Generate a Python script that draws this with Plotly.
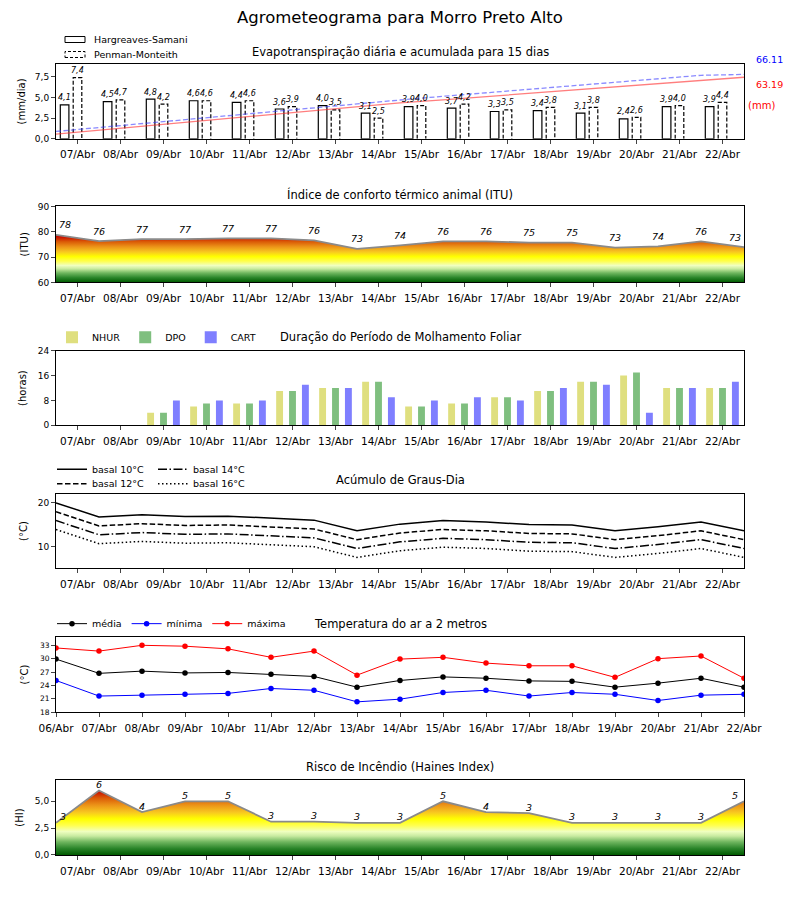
import plotly.graph_objects as go

# ---------------- data ----------------
days = ["07/Abr", "08/Abr", "09/Abr", "10/Abr", "11/Abr", "12/Abr", "13/Abr", "14/Abr",
        "15/Abr", "16/Abr", "17/Abr", "18/Abr", "19/Abr", "20/Abr", "21/Abr", "22/Abr"]
dates = ["06/Abr", "07/Abr", "08/Abr", "09/Abr", "10/Abr", "11/Abr", "12/Abr", "13/Abr", "14/Abr",
         "15/Abr", "16/Abr", "17/Abr", "18/Abr", "19/Abr", "20/Abr", "21/Abr", "22/Abr"]

et_hs = [4.1, 4.5, 4.8, 4.6, 4.4, 3.6, 4.0, 3.1, 3.9, 3.7, 3.3, 3.4, 3.1, 2.4, 3.9, 3.9]
et_pm = [7.4, 4.7, 4.2, 4.6, 4.6, 3.9, 3.5, 2.5, 4.0, 4.2, 3.5, 3.8, 3.8, 2.6, 4.0, 4.4]
acc_hs = [4.8, 8.8, 12.8, 16.8, 20.8, 24.8, 28.8, 32.8, 36.8, 40.0, 43.3, 46.6, 49.9, 53.2, 56.5, 59.9, 63.19]
acc_pm = [7.5, 11.6, 15.7, 19.8, 23.8, 27.8, 31.8, 35.8, 39.8, 43.6, 47.2, 50.6, 54.0, 57.6, 61.4, 65.2, 66.11]

itu = [78.8, 76.3, 77.1, 77.1, 77.4, 77.4, 76.6, 73.2, 74.6, 76.2, 76.2, 75.7, 75.7, 73.7, 74.2, 76.2, 73.9]

nhur = [0, 0, 4, 6, 7, 11, 12, 14, 6, 7, 9, 11, 14, 16, 12, 12]
dpo = [0, 0, 4, 7, 7, 11, 12, 14, 6, 7, 9, 11, 14, 17, 12, 12]
cart = [0, 0, 8, 8, 8, 13, 12, 9, 8, 9, 8, 12, 13, 4, 12, 14]

gd10 = [19.9, 16.7, 17.2, 16.8, 16.9, 16.5, 16.0, 13.6, 15.1, 15.9, 15.6, 15.0, 14.9, 13.6, 14.5, 15.6, 13.6]
gd12 = [17.9, 14.7, 15.2, 14.8, 14.9, 14.5, 14.0, 11.6, 13.1, 13.9, 13.6, 13.0, 12.9, 11.6, 12.5, 13.6, 11.6]
gd14 = [15.9, 12.7, 13.2, 12.8, 12.9, 12.5, 12.0, 9.6, 11.1, 11.9, 11.6, 11.0, 10.9, 9.6, 10.5, 11.6, 9.6]
gd16 = [13.9, 10.7, 11.2, 10.8, 10.9, 10.5, 10.0, 7.6, 9.1, 9.9, 9.6, 9.0, 8.9, 7.6, 8.5, 9.6, 7.6]

t_med = [29.9, 26.7, 27.2, 26.8, 26.9, 26.5, 26.0, 23.6, 25.1, 25.9, 25.6, 25.0, 24.9, 23.6, 24.5, 25.6, 23.6]
t_min = [25.1, 21.6, 21.8, 22.0, 22.2, 23.3, 22.9, 20.3, 20.9, 22.4, 22.9, 21.6, 22.4, 22.0, 20.6, 21.8, 22.0]
t_max = [32.4, 31.7, 33.0, 32.8, 32.2, 30.3, 31.7, 26.3, 29.9, 30.3, 29.0, 28.4, 28.4, 25.8, 30.0, 30.6, 25.6]

haines = [3.0, 6.0, 4.0, 5.0, 5.0, 3.1, 3.1, 3.0, 3.0, 5.0, 4.0, 3.9, 3.0, 3.0, 3.0, 3.0, 5.0]

# ---------------- layout helpers ----------------
FONT = "DejaVu Sans"
W, H = 800, 900
OFF = 8  # page body margin of the browser
PL, PR, PT, PB = 56, 744, 63.5, 855


def px_x(px):
    return (px - PL) / (PR - PL)


def px_y(py):
    return (PB - py) / (PB - PT)


panels = [(63.5, 138.3), (206, 282), (350.3, 425), (493.3, 568.3), (636.7, 712), (780.3, 855)]
yranges = [[0, 9.05], [60, 90], [0, 24], [5.1, 22.0], [18, 34.9], [0, 6.95]]
ytick = [
    ([0, 2.5, 5, 7.5], ["0,0", "2,5", "5,0", "7,5"]),
    ([60, 70, 80, 90], ["60", "70", "80", "90"]),
    ([0, 8, 16, 24], ["0", "8", "16", "24"]),
    ([10, 20], ["10", "20"]),
    ([18, 21, 24, 27, 30, 33], ["18", "21", "24", "27", "30", "33"]),
    ([0, 2.5, 5], ["0,0", "2,5", "5,0"]),
]
titles = ["Evapotranspiração diária e acumulada para 15 dias",
          "Índice de conforto térmico animal (ITU)",
          "Duração do Período de Molhamento Foliar",
          "Acúmulo de Graus-Dia",
          "Temperatura do ar a 2 metros",
          "Risco de Incêndio (Haines Index)"]
title_y = [51, 194, 337, 480, 623.7, 767.3]
ylabels = ["(mm/dia)", "(ITU)", "(horas)", "(°C)", "(°C)", "(HI)"]
ylabel_x = [21, 24, 23, 23, 24, 20]

n_days = len(days)
n_pts = len(dates)
day_x = [i + 0.5 for i in range(n_days)]
pt_x = list(range(n_pts))

grad = [[0.00, "#005a00"], [0.10, "#2a852a"], [0.20, "#6fb65f"], [0.29, "#c8eba0"],
        [0.36, "#f0ffc0"], [0.45, "#ffff50"], [0.55, "#ffff00"], [0.65, "#f8c820"],
        [0.76, "#ec9418"], [0.87, "#da5a06"], [0.95, "#cc1c00"], [1.00, "#c00000"]]

fig = go.Figure()
ann = []
shapes = []


def paper_text(xpx, ypx, text, size, color="black", xanchor="center", angle=0):
    return dict(x=px_x(xpx), y=px_y(ypx), xref="paper", yref="paper", text=text, showarrow=False,
                xanchor=xanchor, yanchor="middle", textangle=angle,
                font=dict(size=size, color=color))


# ---------------- panel 1: ET ----------------
fig.add_trace(go.Bar(x=[c - 0.3 for c in day_x], y=et_hs, width=0.2,
                     marker=dict(color="white", line=dict(color="black", width=1.2)),
                     xaxis="x", yaxis="y", showlegend=False, hoverinfo="skip"))
pm_x, pm_y = [], []
for c, v in zip(day_x, et_pm):
    pm_x += [c - 0.1, c - 0.1, c + 0.1, c + 0.1, None]
    pm_y += [0, v, v, 0, None]
fig.add_trace(go.Scatter(x=pm_x, y=pm_y, mode="lines", line=dict(color="black", width=1.2, dash="4px,2px"),
                         fill="toself", fillcolor="white",
                         xaxis="x", yaxis="y", showlegend=False, hoverinfo="skip"))
for c, v in zip(day_x, et_hs):
    ann.append(dict(x=c - 0.3, y=v, xref="x", yref="y", text=f"{v:.1f}".replace(".", ","),
                    showarrow=False, yshift=7, font=dict(size=8, style="italic")))
for c, v in zip(day_x, et_pm):
    ann.append(dict(x=c, y=v, xref="x", yref="y", text=f"{v:.1f}".replace(".", ","),
                    showarrow=False, yshift=7, font=dict(size=8, style="italic")))
fig.add_trace(go.Scatter(x=pt_x, y=acc_pm, mode="lines",
                         line=dict(color="rgba(60,60,255,0.6)", width=1.3, dash="5px,2.5px"),
                         xaxis="x7", yaxis="y7", showlegend=False, hoverinfo="skip"))
fig.add_trace(go.Scatter(x=pt_x, y=acc_hs, mode="lines",
                         line=dict(color="rgba(255,40,40,0.6)", width=1.3),
                         xaxis="x7", yaxis="y7", showlegend=False, hoverinfo="skip"))
ann.append(paper_text(769, 59, f"{acc_pm[-1]:.2f}", 9.5, "blue"))
ann.append(paper_text(769, 84, f"{acc_hs[-1]:.2f}", 9.5, "red"))
ann.append(paper_text(761, 105.5, "(mm)", 10, "red"))
# legend of panel 1 (outlined boxes)
shapes.append(dict(type="rect", xref="paper", yref="paper", x0=px_x(65), x1=px_x(85),
                   y0=px_y(42), y1=px_y(36), line=dict(color="black", width=1), fillcolor="white"))
shapes.append(dict(type="rect", xref="paper", yref="paper", x0=px_x(65), x1=px_x(85),
                   y0=px_y(57), y1=px_y(51), line=dict(color="black", width=1, dash="3px,2px"),
                   fillcolor="white"))
ann.append(paper_text(92, 39, "Hargreaves-Samani", 9.5, xanchor="left"))
ann.append(paper_text(92, 54, "Penman-Monteith", 9.5, xanchor="left"))

# ---------------- panel 2: ITU ----------------
fig.add_trace(go.Scatter(x=pt_x, y=itu, mode="lines", fill="tozeroy",
                         fillgradient=dict(type="vertical", colorscale=grad, start=60, stop=78.5),
                         line=dict(color="#8a8a8a", width=1.8),
                         xaxis="x2", yaxis="y2", showlegend=False, hoverinfo="skip"))
for k, v in enumerate(itu):
    xs = 9 if k == 0 else (-9 if k == n_pts - 1 else 0)
    ann.append(dict(x=k, y=v, xref="x2", yref="y2", text=str(int(v)), showarrow=False,
                    yshift=10, xshift=xs, font=dict(size=9.5, style="italic")))

# ---------------- panel 3: leaf wetness ----------------
for vals, off, col, name in [(nhur, -0.3, "#dfdf7f", "NHUR"), (dpo, 0.0, "#7fbf7f", "DPO"),
                             (cart, 0.3, "#7f7fff", "CART")]:
    fig.add_trace(go.Bar(x=[c + off for c in day_x], y=vals, width=0.16, marker=dict(color=col, line=dict(width=0)),
                         name=name, xaxis="x3", yaxis="y3", legend="legend2", hoverinfo="skip"))

# ---------------- panel 4: degree days ----------------
for vals, dash, name, lg in [(gd10, "solid", "basal 10°C", "legend3"),
                             (gd14, "9px,2.5px,1.5px,2.5px", "basal 14°C", "legend4"),
                             (gd12, "5.5px,2.5px", "basal 12°C", "legend5"),
                             (gd16, "1.5px,2.5px", "basal 16°C", "legend6")]:
    fig.add_trace(go.Scatter(x=pt_x, y=vals, mode="lines", line=dict(color="black", width=1.5, dash=dash),
                             name=name, xaxis="x4", yaxis="y4", legend=lg, hoverinfo="skip"))

# ---------------- panel 5: temperature ----------------
for vals, col, name in [(t_med, "black", "média"), (t_min, "blue", "mínima"), (t_max, "red", "máxima")]:
    fig.add_trace(go.Scatter(x=pt_x, y=vals, mode="lines+markers", line=dict(color=col, width=1),
                             marker=dict(color=col, size=5.5), name=name,
                             xaxis="x5", yaxis="y5", legend="legend7", hoverinfo="skip"))

# ---------------- panel 6: Haines ----------------
fig.add_trace(go.Scatter(x=pt_x, y=haines, mode="lines", fill="tozeroy",
                         fillgradient=dict(type="vertical", colorscale=grad, start=0, stop=6.1),
                         line=dict(color="#8a8a8a", width=1.8),
                         xaxis="x6", yaxis="y6", showlegend=False, hoverinfo="skip"))
for k, v in enumerate(haines):
    xs = 7 if k == 0 else (-9 if k == n_pts - 1 else 0)
    ann.append(dict(x=k, y=v, xref="x6", yref="y6", text=str(int(v)), showarrow=False,
                    yshift=6, xshift=xs, font=dict(size=9.5, style="italic")))

# ---------------- titles ----------------
ann.append(paper_text(400, 17, "Agrometeograma para Morro Preto Alto", 16.5))
for t, ty in zip(titles, title_y):
    ann.append(paper_text(400, ty, t, 11.5))
for (top, bot), lab, lx in zip(panels, ylabels, ylabel_x):
    ann.append(paper_text(lx, (top + bot) / 2, lab, 10, angle=-90))

# ---------------- axes ----------------
layout = dict(width=W - OFF, height=H - OFF,
              margin=dict(l=PL - OFF, r=W - PR, t=PT - OFF, b=H - PB, pad=0),
              paper_bgcolor="white", plot_bgcolor="white",
              font=dict(family=FONT, color="black", size=10),
              barmode="overlay", annotations=ann, shapes=shapes, hovermode=False)
for i, ((top, bot), yr, (tv, tt)) in enumerate(zip(panels, yranges, ytick)):
    n = i + 1
    sx = "" if n == 1 else str(n)
    if n == 5:
        xtv, xtt = pt_x, dates
    else:
        xtv, xtt = day_x, days
    layout["xaxis" + sx] = dict(domain=[0, 1], anchor="y" + sx, range=[0, n_pts - 1],
                                tickvals=xtv, ticktext=xtt, ticks="outside", ticklen=4, tickwidth=1,
                                showline=True, mirror=True, linecolor="black", linewidth=1,
                                showgrid=False, zeroline=False, tickfont=dict(size=10.5),
                                ticklabelstandoff=2)
    layout["yaxis" + sx] = dict(domain=[px_y(bot), px_y(top)], anchor="x" + sx, range=yr,
                                tickvals=tv, ticktext=tt, ticks="outside", ticklen=4, tickwidth=1,
                                showline=True, mirror=True, linecolor="black", linewidth=1,
                                showgrid=False, zeroline=False,
                                tickfont=dict(size=7.5 if n == 5 else 9))
layout["xaxis7"] = dict(overlaying="x", anchor="y7", range=[0, n_pts - 1], visible=False)
layout["yaxis7"] = dict(overlaying="y", anchor="x7", range=[0, 76.8], visible=False)

legfont = dict(size=9.5, family=FONT)


def leg(xpx, ypx, horiz=False):
    return dict(x=px_x(xpx), y=px_y(ypx), xanchor="left", yanchor="middle", font=legfont,
                orientation="h" if horiz else "v", bgcolor="rgba(0,0,0,0)", itemclick=False,
                itemdoubleclick=False)


layout["legend2"] = leg(52, 337, True)
layout["legend3"] = leg(52, 469)
layout["legend4"] = leg(153, 469)
layout["legend5"] = leg(52, 483.5)
layout["legend6"] = leg(153, 483.5)
layout["legend7"] = leg(52, 623.5, True)
layout["showlegend"] = True

fig.update_layout(**layout)
fig.write_html("out.html")
